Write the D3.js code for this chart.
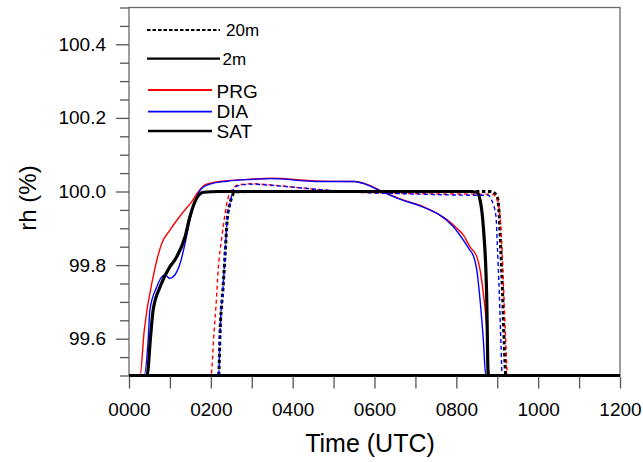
<!DOCTYPE html>
<html><head><meta charset="utf-8">
<script src="https://cdn.jsdelivr.net/npm/d3@7"></script>
<style>
body{margin:0;background:#fff}
svg{display:block}
text{font-family:"Liberation Sans",Arial,Helvetica,sans-serif;fill:#000}
</style>
</head><body>
<svg id="chart" width="643" height="462"></svg>
<script>
// ---- data (time in hours UTC, rh in %) ----
const xTickValues = [0,1,2,3,4,5,6,7,8,9,10,11,12];
const xTickLabels = ["0000","","0200","","0400","","0600","","0800","","1000","","1200"];
const yMajorTicks = [99.6, 99.8, 100.0, 100.2, 100.4];
const yTickLabels = ["99.6","99.8","100.0","100.2","100.4"];
const yMinorTicks = [99.5,99.55,99.65,99.7,99.75,99.85,99.9,99.95,100.05,100.1,100.15,100.25,100.3,100.35,100.45,100.5];

// 2 m, SAT (black solid)
const sat2mT  = [0, 0.44, 0.53, 0.59, 0.76, 1.00, 1.12, 1.37, 1.49, 1.61, 1.82, 2.2, 4, 6, 8.3, 8.50, 8.58, 8.66, 8.74, 8.78, 12];
const sat2mRh = [99.5, 99.5, 99.61, 99.678, 99.741, 99.796, 99.814, 99.877, 99.932, 99.972, 99.998, 100.0, 100.0, 100.0, 100.0, 99.998, 99.977, 99.904, 99.723, 99.5, 99.5];
// 2 m, PRG (red solid)
const prg2mT  = [0, 0.27, 0.37, 0.59, 0.80, 1.00, 1.33, 1.53, 1.69, 1.86, 2.22, 3.04, 3.45, 4.67, 5.5, 5.8, 6.1, 6.4, 6.75, 7.11, 7.36, 7.60, 7.84, 8.01, 8.17, 8.33, 8.50, 8.58, 8.66, 8.74, 8.80, 12];
const prg2mRh = [99.5, 99.5, 99.62, 99.768, 99.859, 99.895, 99.945, 99.972, 99.999, 100.018, 100.027, 100.034, 100.036, 100.028, 100.027, 100.02, 100.005, 99.99, 99.975, 99.963, 99.950, 99.936, 99.918, 99.900, 99.882, 99.850, 99.823, 99.787, 99.723, 99.633, 99.5, 99.5];
// 2 m, DIA (blue solid)
const dia2mT  = [0, 0.37, 0.47, 0.51, 0.68, 0.80, 0.88, 1.00, 1.12, 1.25, 1.37, 1.49, 1.61, 1.78, 1.98, 2.4, 3.04, 3.45, 4.67, 5.5, 5.8, 6.1, 6.4, 6.75, 7.11, 7.93, 8.33, 8.41, 8.50, 8.58, 8.66, 8.72, 12];
const dia2mRh = [99.5, 99.5, 99.6, 99.678, 99.741, 99.768, 99.773, 99.764, 99.773, 99.805, 99.859, 99.923, 99.972, 100.009, 100.020, 100.028, 100.033, 100.035, 100.027, 100.027, 100.019, 100.004, 99.989, 99.974, 99.961, 99.904, 99.841, 99.827, 99.787, 99.705, 99.596, 99.5, 99.5];
// 20 m, SAT (black dashed)
const sat20mT  = [0, 2.19, 2.23, 2.30, 2.35, 2.40, 2.47, 2.53, 2.59, 3, 5, 7, 8.85, 8.90, 9.00, 9.04, 9.08, 9.13, 9.17, 9.21, 12];
const sat20mRh = [99.5, 99.5, 99.63, 99.741, 99.832, 99.923, 99.968, 99.990, 99.999, 100.0, 100.0, 100.0, 100.0, 99.998, 99.986, 99.950, 99.859, 99.723, 99.587, 99.5, 99.5];
// 20 m, PRG (red dashed)
const prg20mT  = [0, 2.00, 2.08, 2.13, 2.18, 2.27, 2.35, 2.43, 2.55, 2.67, 3.0, 3.45, 4.0, 4.67, 5.6, 7.1, 8.3, 8.86, 8.99, 9.05, 9.11, 9.16, 9.21, 9.25, 12];
const prg20mRh = [99.5, 99.5, 99.62, 99.696, 99.787, 99.877, 99.941, 99.986, 100.009, 100.018, 100.021, 100.018, 100.012, 100.005, 99.998, 99.994, 99.993, 99.993, 99.982, 99.950, 99.859, 99.723, 99.587, 99.5, 99.5];
// 20 m, DIA (blue dashed)
const dia20mT  = [0, 2.19, 2.23, 2.30, 2.35, 2.40, 2.47, 2.55, 2.67, 3.0, 3.45, 4.0, 4.67, 5.6, 7.1, 8.3, 8.78, 8.86, 8.97, 9.00, 9.05, 9.09, 9.12, 12];
const dia20mRh = [99.5, 99.5, 99.63, 99.741, 99.832, 99.923, 99.968, 100.005, 100.016, 100.02, 100.017, 100.012, 100.005, 99.998, 99.993, 99.99, 99.99, 99.977, 99.932, 99.859, 99.723, 99.587, 99.5, 99.5];

const seriesNames = ["PRG","DIA","SAT"];
const seriesColors = ["#ff0000","#0000ff","#000000"];
const heightNames = ["20m","2m"];

// ---- drawing ----
const svg = d3.select("#chart");
const L = 129, R = 620, T = 7.5, B = 375.5;
const x = d3.scaleLinear().domain([0, 12]).range([L, R]);
const y = d3.scaleLinear().domain([99.5, 100.5]).range([B, T]).clamp(true);

const zip = (t, v) => t.map((d, i) => [d, v[i]]);
const line = d3.line().x(d => x(d[0])).y(d => y(d[1])).curve(d3.curveMonotoneX);

const g = svg.append("g");
const drawSeries = (t, v, color, width, dash) => {
  g.append("path").datum(zip(t, v))
    .attr("d", line).attr("fill", "none")
    .attr("stroke", color).attr("stroke-width", width)
    .attr("stroke-linejoin", "round")
    .attr("stroke-dasharray", dash || null);
};
drawSeries(sat20mT, sat20mRh, seriesColors[2], 3, "3.5,2.5");
drawSeries(prg20mT, prg20mRh, seriesColors[0], 1.4, "4,3");
drawSeries(dia20mT, dia20mRh, seriesColors[1], 1.4, "4,3");
drawSeries(prg2mT, prg2mRh, seriesColors[0], 1.4);
drawSeries(dia2mT, dia2mRh, seriesColors[1], 1.4);
drawSeries(sat2mT, sat2mRh, seriesColors[2], 3.2);

// frame
svg.append("rect").attr("x", L).attr("y", T).attr("width", R - L).attr("height", B - T)
  .attr("fill", "none").attr("stroke", "#6a6a6a").attr("stroke-width", 1.3);
// curves lying on the lower bound overlap into a thick black bottom edge
svg.append("line").attr("x1", L).attr("x2", R).attr("y1", B).attr("y2", B)
  .attr("stroke", "#000").attr("stroke-width", 3);

// axes
const styleAxis = sel => {
  sel.select(".domain").remove();
  sel.selectAll(".tick line").attr("stroke", "#555").attr("stroke-width", 1.3);
  sel.selectAll("text").style("font-size", "19px").attr("fill", "#000");
};
svg.append("g").attr("transform", `translate(${L},0)`)
  .call(d3.axisLeft(y).tickValues(yMinorTicks).tickSize(9).tickFormat(""))
  .call(styleAxis);
svg.append("g").attr("transform", `translate(${L},0)`)
  .call(d3.axisLeft(y).tickValues(yMajorTicks).tickSize(13).tickPadding(10)
    .tickFormat((d, i) => yTickLabels[i]))
  .call(styleAxis);
svg.append("g").attr("transform", `translate(0,${B + 1})`)
  .call(d3.axisBottom(x).tickValues(xTickValues).tickSize(12).tickPadding(14)
    .tickFormat((d, i) => xTickLabels[i]))
  .call(styleAxis);

// axis titles
svg.append("text").attr("x", 370).attr("y", 452).attr("text-anchor", "middle")
  .style("font-size", "25px").text("Time (UTC)");
svg.append("text").attr("transform", "translate(36,198) rotate(-90)")
  .attr("text-anchor", "middle").style("font-size", "24px").text("rh (%)");

// legend
const lg = svg.append("g");
lg.append("line").attr("x1", 147).attr("x2", 220).attr("y1", 30).attr("y2", 30)
  .attr("stroke", "#000").attr("stroke-width", 2).attr("stroke-dasharray", "3.5,2");
lg.append("text").attr("x", 226).attr("y", 35.5).style("font-size", "17px").text(heightNames[0]);
lg.append("line").attr("x1", 147).attr("x2", 220).attr("y1", 58.7).attr("y2", 58.7)
  .attr("stroke", "#000").attr("stroke-width", 2.3);
lg.append("text").attr("x", 222.5).attr("y", 65).style("font-size", "17px").text(heightNames[1]);
const lgY = [90, 111.7, 131];
const lgTextY = [98.3, 118.3, 137.8];
seriesNames.forEach((n, i) => {
  lg.append("line").attr("x1", 148).attr("x2", 212).attr("y1", lgY[i]).attr("y2", lgY[i])
    .attr("stroke", seriesColors[i]).attr("stroke-width", i === 2 ? 2.4 : 1.8);
  lg.append("text").attr("x", 216.5).attr("y", lgTextY[i]).style("font-size", "19px").text(n);
});
</script>
</body></html>
